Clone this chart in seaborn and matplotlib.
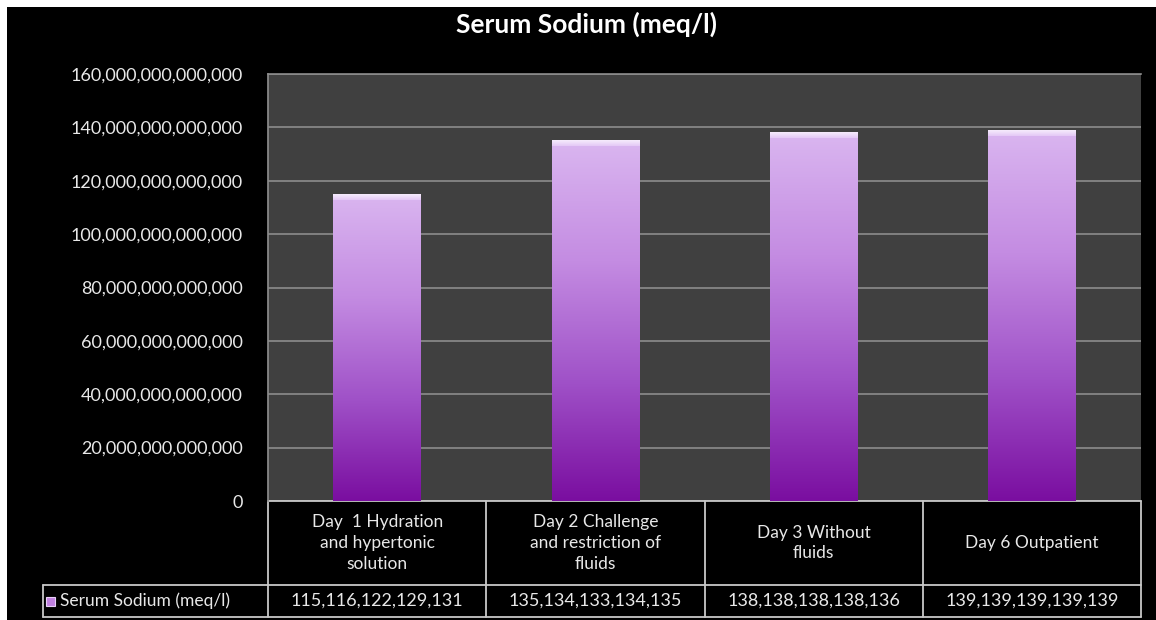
import numpy as np
import pandas as pd
import seaborn as sns
import matplotlib.pyplot as plt
import matplotlib.transforms as mtransforms
from matplotlib.colors import LinearSegmentedColormap
from matplotlib.patches import Rectangle
from matplotlib.ticker import FuncFormatter, MultipleLocator

# values are the daily readings read as one big number each (as in the source sheet)
days = ["Day  1 Hydration\nand hypertonic\nsolution",
        "Day 2 Challenge\nand restriction of\nfluids",
        "Day 3 Without\nfluids",
        "Day 6 Outpatient"]
sodium = [115116122129131, 135134133134135, 138138138138136, 139139139139139]
series_name = "Serum Sodium (meq/l)"

BG = "#000000"
PLOT_BG = "#404040"
GRID = "#8c8c8c"
TEXT = "#e8e8e8"
LINE = "#c8c8c8"

sns.set_theme(style="dark")
plt.rcParams["font.family"] = ["Lato", "DejaVu Sans"]

fig = plt.figure(figsize=(11.56, 6.2), dpi=100, facecolor="white")
# black chart area with small white margin at top/left
fig.patches.append(Rectangle((7 / 1156, 0), 1, 1 - 7 / 620, transform=fig.transFigure,
                             facecolor=BG, edgecolor="none", zorder=-10))

ax = fig.add_axes([268 / 1156, 119 / 620, 873 / 1156, 427 / 620])
df = pd.DataFrame({"day": days, "value": sodium})
sns.barplot(data=df, x="day", y="value", ax=ax, width=0.40, color="#a050c8",
            edgecolor="none", zorder=3)

ax.set_facecolor(PLOT_BG)
ax.yaxis.set_major_locator(MultipleLocator(20e12))
ax.yaxis.set_major_formatter(FuncFormatter(lambda v, p: f"{v:,.0f}"))
ax.grid(axis="y", color=GRID, linewidth=1.2, zorder=1)
ax.grid(axis="x", visible=False)
ax.set_xticks([])
ax.set_xlabel("")
ax.set_ylabel("")
ax.tick_params(axis="y", colors=TEXT, labelsize=13, length=0, pad=18)
for side in ["right", "bottom"]:
    ax.spines[side].set_visible(False)
ax.spines["top"].set_color(GRID)
ax.spines["left"].set_color(GRID)
ax.spines["top"].set_linewidth(1.2)

# purple gradient fill for each bar, lighter cap on top
cmap = LinearSegmentedColormap.from_list("purp", ["#7a0ea0", "#a052c8", "#c48ce2", "#dab6f0"])
cap_cmap = LinearSegmentedColormap.from_list("cap", ["#e4c8f6", "#f6ecfc"])
grad = np.linspace(0, 1, 256).reshape(-1, 1)
cap_h = 160e12 * 6 / 427
for bar in ax.patches:
    x0, w, h = bar.get_x(), bar.get_width(), bar.get_height()
    im = ax.imshow(grad, extent=(x0, x0 + w, 0, h), origin="lower", cmap=cmap,
                   aspect="auto", zorder=4)
    im.set_clip_path(bar)
    bar.set_facecolor("none")
    ax.imshow(grad, extent=(x0, x0 + w, h - cap_h, h), origin="lower", cmap=cap_cmap,
              aspect="auto", zorder=5)
ax.set_xlim(-0.5, len(days) - 0.5)
ax.set_ylim(0, 160e12)

# data table below the plot
tr = mtransforms.blended_transform_factory(ax.transData, ax.transAxes)
h1 = 84 / 427
h2 = 32 / 427
left_leg = -0.5 - 225 / 218.25
edges = np.arange(len(days) + 1) - 0.5
kw = dict(transform=tr, clip_on=False, color=LINE, linewidth=1.3)
ax.plot([edges[0], edges[-1]], [0, 0], **kw)
ax.plot([left_leg, edges[-1]], [-h1, -h1], **kw)
ax.plot([left_leg, edges[-1]], [-h1 - h2, -h1 - h2], **kw)
for e in edges:
    ax.plot([e, e], [0, -h1 - h2], **kw)
ax.plot([left_leg, left_leg], [-h1, -h1 - h2], **kw)

for i, (d, v) in enumerate(zip(days, sodium)):
    ax.text(i, -h1 / 2, d, transform=tr, ha="center", va="center", color=TEXT,
            fontsize=12.5, linespacing=1.35, clip_on=False)
    ax.text(i, -h1 - h2 / 2, f"{v:,}", transform=tr, ha="center", va="center",
            color=TEXT, fontsize=13, clip_on=False)

# legend key + series name
fig.patches.append(Rectangle((46 / 1156, (620 - 606) / 620), 9 / 1156, 9 / 620,
                             transform=fig.transFigure, facecolor="#c080e0",
                             edgecolor="#e8d0f8", linewidth=0.8))
ax.text(left_leg + 17 / 218.25, -h1 - h2 / 2, series_name, transform=tr, ha="left",
        va="center", color=TEXT, fontsize=12.5, clip_on=False)

fig.text(586 / 1156, 1 - 24 / 620, "Serum Sodium (meq/l)", ha="center", va="center",
         color="white", fontsize=19, fontweight="bold")

fig.savefig("out.png", dpi=100, facecolor=fig.get_facecolor())
